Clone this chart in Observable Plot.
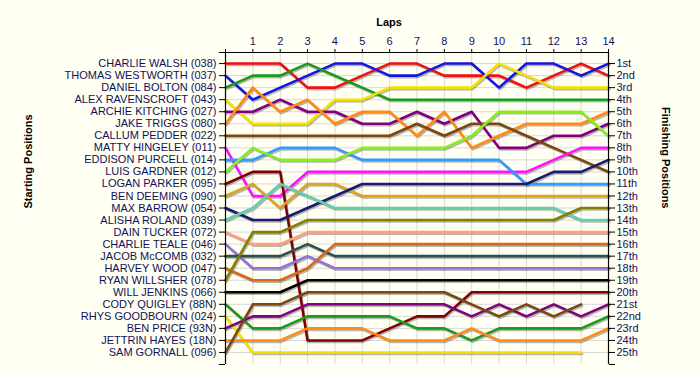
<!DOCTYPE html>
<html>
<head>
<meta charset="utf-8">
<script src="https://cdn.jsdelivr.net/npm/d3@7"></script>
<script src="https://cdn.jsdelivr.net/npm/@observablehq/plot@0.6"></script>
<style>
  html, body { margin: 0; padding: 0; background: #FFFFF3; }
</style>
</head>
<body>
<div id="chart"></div>
<script>
const laps = [0, 1, 2, 3, 4, 5, 6, 7, 8, 9, 10, 11, 12, 13, 14];
const startPositions = d3.range(1, 26);

const driverNames = [
  "CHARLIE WALSH (038)", "THOMAS WESTWORTH (037)", "DANIEL BOLTON (084)",
  "ALEX RAVENSCROFT (043)", "ARCHIE KITCHING (027)", "JAKE TRIGGS (080)",
  "CALLUM PEDDER (022)", "MATTY HINGELEY (011)", "EDDISON PURCELL (014)",
  "LUIS GARDNER (012)", "LOGAN PARKER (095)", "BEN DEEMING (090)",
  "MAX BARROW (054)", "ALISHA ROLAND (039)", "DAIN TUCKER (072)",
  "CHARLIE TEALE (046)", "JACOB McCOMB (032)", "HARVEY WOOD (047)",
  "RYAN WILLSHER (078)", "WILL JENKINS (066)", "CODY QUIGLEY (88N)",
  "RHYS GOODBOURN (024)", "BEN PRICE (93N)", "JETTRIN HAYES (18N)",
  "SAM GORNALL (096)"
];

const driverColors = [
  "#EE1111", "#1515E0", "#1A9A1A", "#F5E000", "#800080", "#FF8A14", "#7A4612",
  "#FF10FF", "#3399FF", "#88EE22", "#800000", "#DAA520", "#1A1A6E", "#66CDAA",
  "#FFA07A", "#9370DB", "#2F4F4F", "#D2691E", "#808000", "#000000",
  "#1A9A1A", "#F5E000", "#800080", "#FF8A14", "#7A4612"
];

const finishLabels = [
  "1st", "2nd", "3rd", "4th", "5th", "6th", "7th", "8th", "9th", "10th",
  "11th", "12th", "13th", "14th", "15th", "16th", "17th", "18th", "19th", "20th",
  "21st", "22nd", "23rd", "24th", "25th"
];

// position at each lap (lap 0 .. 14), null = not running
const walsh      = [1, 1, 1, 3, 3, 2, 1, 1, 2, 2, 2, 3, 2, 1, 2];
const westworth  = [2, 4, 3, 2, 1, 1, 2, 2, 1, 1, 3, 1, 1, 2, 1];
const bolton     = [3, 2, 2, 1, 2, 3, 4, 4, 4, 4, 4, 4, 4, 4, 4];
const ravenscroft= [4, 6, 6, 6, 4, 4, 3, 3, 3, 3, 1, 2, 3, 3, 3];
const kitching   = [5, 5, 4, 5, 5, 6, 6, 5, 6, 5, 8, 8, 7, 7, 6];
const triggs     = [6, 3, 5, 4, 6, 5, 5, 7, 5, 8, 7, 6, 6, 6, 5];
const pedder     = [7, 7, 7, 7, 7, 7, 7, 6, 7, 6, 6, 7, 8, 9, 10];
const hingeley   = [8, 12, 12, 10, 10, 10, 10, 10, 10, 10, 10, 10, 9, 8, 8];
const purcell    = [9, 9, 8, 8, 8, 9, 9, 9, 9, 9, 9, 11, 11, 11, 11];
const gardner    = [10, 8, 9, 9, 9, 8, 8, 8, 8, 7, 5, 5, 5, 5, 7];
const parker     = [11, 10, 10, 24, 24, 24, 23, 22, 22, 20, 20, 20, 20, 20, 20];
const deeming    = [12, 11, 13, 11, 11, 12, 12, 12, 12, 12, 12, 12, 12, 12, 12];
const barrow     = [13, 14, 14, 13, 12, 11, 11, 11, 11, 11, 11, 11, 10, 10, 9];
const roland     = [14, 13, 11, 12, 13, 13, 13, 13, 13, 13, 13, 13, 13, 14, 14];
const tucker     = [15, 16, 16, 15, 15, 15, 15, 15, 15, 15, 15, 15, 15, 15, 15];
const teale      = [16, 18, 18, 17, 18, 18, 18, 18, 18, 18, 18, 18, 18, 18, 18];
const mccomb     = [17, 17, 17, 16, 17, 17, 17, 17, 17, 17, 17, 17, 17, 17, 17];
const wood       = [18, 19, 19, 18, 16, 16, 16, 16, 16, 16, 16, 16, 16, 16, 16];
const willsher   = [19, 15, 15, 14, 14, 14, 14, 14, 14, 14, 14, 14, 14, 13, 13];
const jenkins    = [20, 20, 20, 19, 19, 19, 19, 19, 19, 19, 19, 19, 19, 19, 19];
const quigley    = [21, 23, 23, 22, 22, 22, 22, 23, 23, 24, 23, 23, 23, 23, 22];
const goodbourn  = [22, 25, 25, 25, 25, 25, 25, 25, 25, 25, 25, 25, 25, 25, null];
const price      = [23, 22, 22, 21, 21, 21, 21, 21, 21, 22, 21, 22, 21, 22, 21];
const hayes      = [24, 24, 24, 23, 23, 23, 24, 24, 24, 23, 24, 24, 24, 24, 23];
const gornall    = [25, 21, 21, 20, 20, 20, 20, 20, 20, 21, 22, 21, 22, 21, null];

const positionSeries = [walsh, westworth, bolton, ravenscroft, kitching, triggs,
  pedder, hingeley, purcell, gardner, parker, deeming, barrow, roland, tucker,
  teale, mccomb, wood, willsher, jenkins, quigley, goodbourn, price, hayes, gornall];

const rows = [];
positionSeries.forEach((series, i) => {
  series.forEach((p, lap) => {
    if (p != null) rows.push({driver: driverNames[i], lap: laps[lap], pos: p});
  });
});

const yTop = 0.08, yBottom = 26;

const chart = Plot.plot({
  width: 700,
  height: 375,
  marginLeft: 225,
  marginRight: 92,
  marginTop: 52,
  marginBottom: 11,
  style: {background: "#FFFFF3", fontFamily: "'Liberation Sans', Arial, sans-serif", fontSize: "11px"},
  x: {domain: [0, 14], axis: null},
  y: {domain: [yTop, yBottom], reverse: true, axis: null},
  color: {domain: driverNames, range: driverColors},
  marks: [
    Plot.gridX({ticks: d3.range(1, 14), stroke: "#d8d8d8", strokeOpacity: 1}),
    Plot.gridY({ticks: startPositions, stroke: "#d8d8d8", strokeOpacity: 1}),
    Plot.line(rows, {x: "lap", y: "pos", z: "driver", stroke: "#000", strokeOpacity: 0.28,
      strokeWidth: 2.6, dx: 1, dy: 1.5}),
    Plot.line(rows, {x: "lap", y: "pos", z: "driver", stroke: "driver", strokeWidth: 2.6}),
    Plot.ruleX([0, 14], {stroke: "#000", strokeWidth: 1.2}),
    Plot.ruleY([yTop], {stroke: "#000", strokeWidth: 1.2}),
    Plot.axisX({anchor: "top", ticks: laps, tickFormat: d => d === 0 ? "" : String(d),
      tickSize: 4, tickPadding: 4, label: null, fill: "#10105a", stroke: "#000", fontSize: 11}),
    Plot.axisY({anchor: "left", ticks: startPositions, tickFormat: i => driverNames[i - 1],
      tickSize: 6, tickPadding: 3, label: null, fill: "#10105a", stroke: "#000", fontSize: 11}),
    Plot.axisY({anchor: "left", ticks: [yTop, yBottom], tickFormat: () => "",
      tickSize: 6, label: null, stroke: "#000"}),
    Plot.axisY({anchor: "right", ticks: startPositions, tickFormat: i => finishLabels[i - 1],
      tickSize: 6, tickPadding: 2, label: null, fill: "#10105a", stroke: "#000", fontSize: 11}),
    Plot.axisY({anchor: "right", ticks: [yBottom], tickFormat: () => "",
      tickSize: 6, label: null, stroke: "#000"}),
    Plot.text(["Laps"], {frameAnchor: "top", dx: -28, dy: -34, fontWeight: "bold", fontSize: 11, fill: "#000"}),
    Plot.text(["Starting Positions"], {frameAnchor: "left", dx: -197, rotate: -90, fontWeight: "bold", fontSize: 11, fill: "#000"}),
    Plot.text(["Finishing Positions"], {frameAnchor: "right", dx: 57, rotate: 90, fontWeight: "bold", fontSize: 11, fill: "#000"})
  ]
});

document.getElementById("chart").appendChild(chart);
</script>
</body>
</html>
